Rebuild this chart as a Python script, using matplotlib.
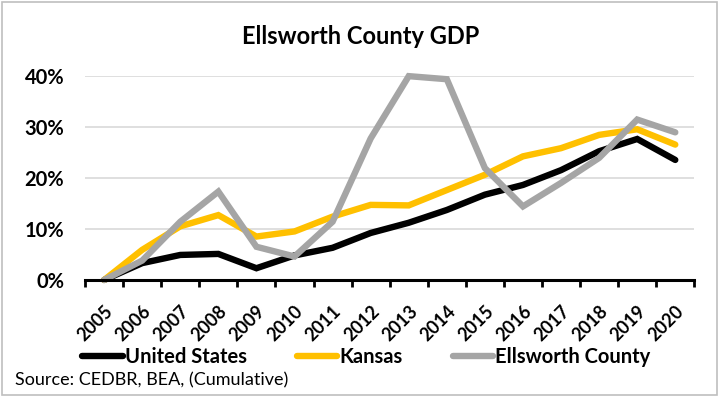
import numpy as np
import matplotlib.pyplot as plt
import matplotlib.transforms as mtransforms
from matplotlib.ticker import FixedLocator, PercentFormatter
from matplotlib.patches import Rectangle

plt.rcParams['font.family'] = ['Lato', 'DejaVu Sans']

# ---- data (cumulative GDP growth since 2005, %) ----
years = [str(y) for y in range(2005, 2021)]
us = [0.0, 3.3, 4.9, 5.1, 2.3, 4.8, 6.3, 9.2, 11.2, 13.7, 16.7, 18.6, 21.5, 25.2, 27.6, 23.5]
kansas = [0.0, 5.9, 10.5, 12.7, 8.5, 9.5, 12.4, 14.7, 14.6, 17.6, 20.6, 24.2, 25.8, 28.4, 29.5, 26.5]
ellsworth = [0.0, 3.8, 11.4, 17.3, 6.5, 4.6, 11.4, 27.7, 39.9, 39.3, 21.9, 14.4, 19.0, 23.9, 31.4, 28.9]

series = [("United States", us, "#000000"),
          ("Kansas", kansas, "#FFC000"),
          ("Ellsworth County", ellsworth, "#A5A5A5")]

fig = plt.figure(figsize=(7.21, 3.96), dpi=100)
ax = fig.add_axes([0.118, 0.293, 0.845, 0.516])

x = np.arange(len(years))
for name, vals, col in series:
    ax.plot(x, vals, color=col, lw=4.6, label=name, clip_on=False,
            solid_joinstyle="miter", solid_capstyle="round")

ax.set_xlim(-0.5, len(years) - 0.5)
ax.set_ylim(0, 40)
ax.set_yticks([0, 10, 20, 30, 40])
ax.yaxis.set_major_formatter(PercentFormatter(decimals=0))
ax.grid(axis="y", color="#d9d9d9", lw=1.2)
ax.set_axisbelow(True)

for s in ["top", "right", "left"]:
    ax.spines[s].set_visible(False)
ax.spines["bottom"].set_linewidth(2.2)
ax.spines["bottom"].set_zorder(5)

# category labels, rotated, with the tick marks sitting between categories
ax.set_xticks(x)
ax.set_xticklabels(years, rotation=45, ha="right", va="top", rotation_mode="anchor",
                   fontsize=13, fontweight="bold")
shift = mtransforms.ScaledTranslation(2 / 100, 0, fig.dpi_scale_trans)
for lab in ax.get_xticklabels():
    lab.set_transform(lab.get_transform() + shift)
ax.xaxis.set_minor_locator(FixedLocator(np.arange(-0.5, len(years), 1.0)))
ax.tick_params(axis="x", which="major", length=0, pad=16)
ax.tick_params(axis="x", which="minor", length=5, width=2, direction="out")
ax.tick_params(axis="y", length=0, pad=15, labelsize=14.5)
for lab in ax.get_yticklabels():
    lab.set_fontweight("bold")

fig.text(0.5, 0.907, "Ellsworth County GDP", ha="center", va="center",
         fontsize=17, fontweight="bold")

fig.legend(loc="center", bbox_to_anchor=(0.508, 0.0985), ncol=3, frameon=False,
           handlelength=2.0, handletextpad=0.1, columnspacing=2.5,
           prop={"size": 14.5, "weight": "bold"})

fig.text(0.021, 0.04, "Source: CEDBR, BEA, (Cumulative)", ha="left", va="center",
         fontsize=13)

fig.patches.append(Rectangle((0.003, 0.003), 0.992, 0.992, transform=fig.transFigure,
                             fill=False, edgecolor="#bfbfbf", lw=1.2))

fig.savefig("out.png", dpi=100)
